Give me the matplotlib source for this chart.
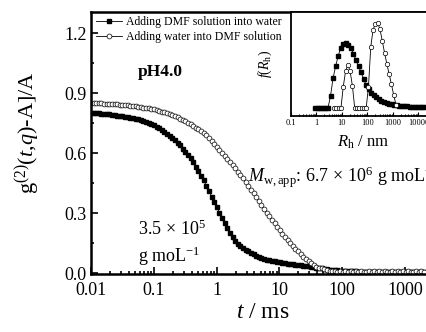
import numpy as np
import matplotlib
matplotlib.use("Agg")
import matplotlib.pyplot as plt

plt.rcParams['font.family'] = ['Liberation Serif', 'DejaVu Serif']
plt.rcParams['mathtext.fontset'] = 'custom'
plt.rcParams['mathtext.rm'] = 'Liberation Serif'
plt.rcParams['mathtext.it'] = 'Liberation Serif:italic'
plt.rcParams['mathtext.bf'] = 'Liberation Serif:bold'

# correlation functions, lag time channels 0.01 ms .. 2000 ms
g2_dmf_into_water = [
    0.800, 0.800, 0.799, 0.798, 0.797, 0.796, 0.794, 0.793, 0.791, 0.789, 0.787, 0.785,
    0.783, 0.781, 0.779, 0.777, 0.774, 0.771, 0.768, 0.764, 0.760, 0.756, 0.751, 0.746,
    0.741, 0.732, 0.724, 0.715, 0.706, 0.697, 0.686, 0.674, 0.663, 0.651, 0.639, 0.622,
    0.606, 0.591, 0.575, 0.555, 0.532, 0.509, 0.486, 0.463, 0.436, 0.409, 0.382, 0.355,
    0.328, 0.302, 0.276, 0.250, 0.223, 0.199, 0.178, 0.160, 0.146, 0.134, 0.124, 0.116,
    0.108, 0.100, 0.093, 0.087, 0.082, 0.077, 0.072, 0.067, 0.064, 0.061, 0.058, 0.055,
    0.053, 0.051, 0.049, 0.047, 0.045, 0.044, 0.042, 0.040, 0.038, 0.037, 0.035, 0.033,
    0.031, 0.029, 0.027, 0.025, 0.023, 0.021, 0.019, 0.017, 0.016, 0.014, 0.013, 0.012,
    0.011, 0.010, 0.009, 0.009, 0.008, 0.008, 0.007, 0.007, 0.007, 0.006, 0.007, 0.006,
    0.005, 0.007, 0.006, 0.005, 0.006, 0.007, 0.005, 0.006, 0.004, 0.006, 0.007, 0.005,
    0.006, 0.005, 0.007, 0.006, 0.004, 0.006, 0.005, 0.006,
]
g2_water_into_dmf = [
    0.850, 0.849, 0.849, 0.848, 0.848, 0.847, 0.846, 0.845, 0.844, 0.843, 0.843, 0.842,
    0.840, 0.839, 0.838, 0.837, 0.835, 0.833, 0.831, 0.829, 0.827, 0.825, 0.823, 0.820,
    0.818, 0.814, 0.810, 0.807, 0.803, 0.799, 0.794, 0.788, 0.783, 0.778, 0.772, 0.765,
    0.758, 0.751, 0.744, 0.736, 0.727, 0.718, 0.710, 0.701, 0.688, 0.674, 0.660, 0.646,
    0.632, 0.617, 0.602, 0.587, 0.572, 0.557, 0.540, 0.524, 0.507, 0.490, 0.473, 0.454,
    0.435, 0.417, 0.398, 0.379, 0.360, 0.340, 0.321, 0.301, 0.284, 0.266, 0.248, 0.230,
    0.213, 0.197, 0.182, 0.166, 0.150, 0.135, 0.122, 0.108, 0.095, 0.081, 0.070, 0.060,
    0.051, 0.042, 0.032, 0.027, 0.023, 0.019, 0.015, 0.011, 0.009, 0.008, 0.007, 0.008,
    0.006, 0.008, 0.007, 0.009, 0.006, 0.008, 0.007, 0.009, 0.007, 0.006, 0.008, 0.007,
    0.009, 0.006, 0.008, 0.007, 0.009, 0.007, 0.006, 0.008, 0.007, 0.009, 0.006, 0.008,
    0.007, 0.009, 0.007, 0.006, 0.008, 0.007, 0.009, 0.007,
]
t_ms = np.geomspace(0.01, 2000, len(g2_dmf_into_water))

# size distributions (inset)
f_dmf_into_water = [
    0, 0, 0, 0, 0, 0, 0.14, 0.35, 0.49, 0.61, 0.71, 0.75, 0.765, 0.74, 0.70,
    0.64, 0.56, 0.49, 0.42, 0.34, 0.27, 0.22, 0.18, 0.15, 0.125, 0.105, 0.088,
    0.074, 0.062, 0.052, 0.044, 0.038, 0.033, 0.029, 0.025, 0.022, 0.019, 0.017,
    0.015, 0.013, 0.012, 0.011, 0.010, 0.010,
]
f_water_into_dmf = [
    0, 0, 0, 0, 0.25, 0.43, 0.51, 0.43, 0.26, 0, 0, 0, 0, 0, 0, 0.25, 0.72,
    0.92, 0.99, 1.0, 0.93, 0.79, 0.65, 0.52, 0.40, 0.28, 0.15, 0.04,
]
rh_sq = np.geomspace(10**-0.05, 10**4.25, len(f_dmf_into_water))
rh_ci = np.geomspace(10**0.69, 10**3.12, len(f_water_into_dmf))

x_ticks = [0.01, 0.1, 1, 10, 100, 1000]
x_ticklabels = ['0.01', '0.1', '1', '10', '100', '1000']
y_ticks = [0.0, 0.3, 0.6, 0.9, 1.2]
y_ticklabels = ['0.0', '0.3', '0.6', '0.9', '1.2']
in_ticks = [0.1, 1, 10, 100, 1000, 10000]
in_ticklabels = ['0.1', '1', '10', '100', '1000', '10000']

fig = plt.figure(figsize=(4.26, 3.32), dpi=100)
ax = fig.add_axes([91/426, 58/332, 344/426, 262/332])

ax.plot(t_ms, g2_dmf_into_water, '-s', color='black', lw=0.6, ms=3.1,
        mfc='black', mec='black', label='Adding DMF solution into water')
ax.plot(t_ms, g2_water_into_dmf, '-o', color='black', lw=0.6, ms=3.5,
        mfc='white', mec='black', mew=0.5, label='Adding water into DMF solution')

ax.set_xscale('log')
ax.set_xlim(0.01, 3000)
ax.set_ylim(-0.005, 1.305)
ax.set_xticks(x_ticks)
ax.set_xticklabels(x_ticklabels)
ax.set_yticks(y_ticks)
ax.set_yticklabels(y_ticklabels)
ax.set_yticks([0.15, 0.45, 0.75, 1.05], minor=True)
ax.tick_params(which='both', direction='in', top=False, right=False, labelsize=13, width=1.2)
ax.tick_params(which='major', length=5, pad=3)
ax.tick_params(axis='x', which='major', pad=6)
ax.tick_params(which='minor', length=2.5)
for s in ax.spines.values():
    s.set_linewidth(1.8)

ax.set_xlabel(r'$t$ / ms', fontsize=17, labelpad=2)
ax.set_ylabel(r'g$^{(2)}$($t$,$q$)-A]/A', fontsize=16)
ax.yaxis.set_label_coords(-0.14, 0.54)

ax.legend(loc='upper left', bbox_to_anchor=(-0.005, 1.01), frameon=False, fontsize=8.5,
          handlelength=2.2, handletextpad=0.3, labelspacing=0.25, borderaxespad=0.2)

ax.text(0.137, 0.771, 'pH4.0', transform=ax.transAxes, fontsize=12.5,
        fontweight='bold', va='center')
ax.text(0.456, 0.37, r'$M_{\rm w,app}$: 6.7$\,\times\,$10$^6$ g moL$^{-1}$',
        transform=ax.transAxes, fontsize=13, va='center')
ax.text(0.137, 0.172, r'3.5$\,\times\,$10$^5$', transform=ax.transAxes, fontsize=13, va='center')
ax.text(0.137, 0.069, r'g moL$^{-1}$', transform=ax.transAxes, fontsize=13, va='center')

# inset
axi = fig.add_axes([291/426, 216/332, 144/426, 104/332])
axi.plot(rh_sq, f_dmf_into_water, '-s', color='black', lw=0.6, ms=2.6, mfc='black')
axi.plot(rh_ci, f_water_into_dmf, '-o', color='black', lw=0.6, ms=3.2,
         mfc='white', mec='black', mew=0.5)
axi.set_xscale('log')
axi.set_xlim(0.1, 44700)
axi.set_ylim(-0.094, 1.129)
axi.set_xticks(in_ticks)
axi.set_xticklabels(in_ticklabels)
axi.set_yticks([])
axi.tick_params(which='both', direction='in', top=False, right=False, labelsize=6, width=0.8)
axi.tick_params(which='major', length=3, pad=2)
axi.tick_params(which='minor', length=1.5)
for s in axi.spines.values():
    s.set_linewidth(1.3)
axi.set_xlabel(r'$R_{\rm h}$ / nm', fontsize=12, labelpad=5)
axi.set_ylabel(r'$f$($R_{\rm h}$)', fontsize=10, labelpad=12)

fig.savefig('out.png', dpi=100)
